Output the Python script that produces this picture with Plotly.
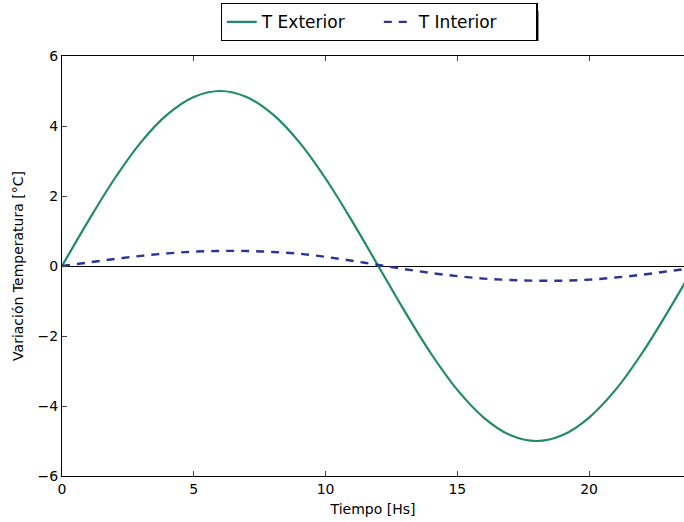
import plotly.graph_objects as go

# Hourly temperature variation (°C)
hours = list(range(0, 25))
t_exterior = [0.00, 1.29, 2.50, 3.54, 4.33, 4.83, 5.00, 4.83, 4.33, 3.54, 2.50, 1.29,
              0.00, -1.29, -2.50, -3.54, -4.33, -4.83, -5.00, -4.83, -4.33, -3.54, -2.50, -1.29, 0.00]
t_interior = [0.00, 0.10, 0.20, 0.29, 0.36, 0.41, 0.43, 0.43, 0.40, 0.35, 0.26, 0.15,
              0.03, -0.09, -0.20, -0.29, -0.36, -0.40, -0.42, -0.42, -0.39, -0.33, -0.25, -0.15, -0.05]

x_ticks = [0, 5, 10, 15, 20]
y_ticks = [-6, -4, -2, 0, 2, 4, 6]
y_tick_text = ["\u22126", "\u22124", "\u22122", "0", "2", "4", "6"]

GREEN = "#218a6b"
BLUE = "#283593"
FONT = "DejaVu Sans"

fig = go.Figure()
fig.add_trace(go.Scatter(x=hours, y=t_exterior, mode="lines", name="T Exterior",
                         line=dict(color=GREEN, width=2.2, shape="spline")))
fig.add_trace(go.Scatter(x=hours, y=t_interior, mode="lines", name="T Interior",
                         line=dict(color=BLUE, width=2.4, dash="8px,7px", shape="spline")))

# drop shadow behind the legend box
fig.add_shape(type="rect", xref="paper", yref="paper",
              x0=(226 - 62) / 622, x1=(539 - 62) / 622,
              y0=(476 - 41) / 420, y1=(476 - 11) / 420,
              fillcolor="#8c8c8c", line=dict(width=0), layer="below")

fig.update_layout(
    width=684, height=522,
    margin=dict(l=62, r=0, t=56, b=46),
    plot_bgcolor="white", paper_bgcolor="white",
    font=dict(family=FONT, size=14, color="black"),
    showlegend=True,
    legend=dict(orientation="h", x=(379 - 62) / 622, xanchor="center",
                y=(476 - 22) / 420, yanchor="middle",
                bordercolor="black", borderwidth=1.3, bgcolor="white",
                font=dict(family=FONT, size=17), entrywidth=112, entrywidthmode="pixels",
                itemwidth=30),
    xaxis=dict(range=[0, 23.6], tickvals=x_ticks, ticks="inside", ticklen=5,
               showline=True, linecolor="black", linewidth=1, mirror="ticks",
               showgrid=False, zeroline=False,
               title=dict(text="Tiempo [Hs]", standoff=8, font=dict(size=14))),
    yaxis=dict(range=[-6, 6], tickvals=y_ticks, ticktext=y_tick_text, ticks="inside", ticklen=5,
               showline=True, linecolor="black", linewidth=1, mirror=False,
               showgrid=False, zeroline=True, zerolinecolor="black", zerolinewidth=1,
               title=dict(text="Variación Temperatura [°C]", standoff=10, font=dict(size=14))),
)

fig.write_html("out.html")
